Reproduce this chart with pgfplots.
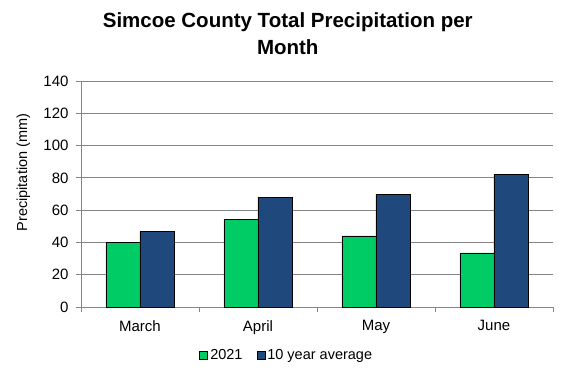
\documentclass[border=0pt]{standalone}
\usepackage{fontspec}
\setmainfont{Liberation Sans}
\usepackage{pgfplots}
\pgfplotsset{compat=1.18}
\definecolor{bargreen}{HTML}{00CC66}
\definecolor{barblue}{HTML}{1F497D}
\definecolor{axgray}{HTML}{868686}
\begin{document}
\begin{tikzpicture}[x=1pt,y=1pt]
\useasboundingbox (-81,-71) rectangle (487,307);
\begin{axis}[
  at={(0,0)}, anchor=south west,
  scale only axis, width=472pt, height=226pt,
  xmin=-0.5, xmax=3.5, ymin=0, ymax=140,
  axis x line*=bottom, axis y line*=left,
  axis line style={axgray, line width=0.8pt},
  ytick={0,20,...,140},
  ymajorgrids, grid style={axgray, line width=0.8pt},
  xtick={-0.5,0.5,1.5,2.5,3.5}, xticklabels={},
  extra x ticks={0,1,2,3},
  extra x tick labels={March,April,May,June},
  extra x tick style={major tick length=0pt, grid=none},
  tick align=outside, major tick length=5pt,
  tick style={axgray, line width=0.8pt},
  every tick label/.append style={font=\fontsize{15}{17}\selectfont, text=black},
  /pgf/number format/assume math mode=true,
  yticklabel style={xshift=-4pt},
  xticklabel style={yshift=-10pt},
  ylabel={Precipitation (mm)},
  ylabel style={at={(axis description cs:-0.122,0.595)}, anchor=center, font=\fontsize{14.5}{17}\selectfont},
  ybar, bar width=34pt,
  legend columns=2,
  legend style={at={(axis description cs:0.436,-0.212)}, anchor=center, draw=none,
    font=\fontsize{14.5}{17}\selectfont, /tikz/every even column/.append style={column sep=12pt}},
  legend image code/.code={\draw[#1, line width=0.8pt] (0pt,-4pt) rectangle (8pt,4pt);},
  title={Simcoe County Total Precipitation per\\Month},
  title style={at={(axis description cs:0.438,1.182)}, anchor=center, align=center,
    font=\bfseries\fontsize{20.5}{27}\selectfont},
]
\addplot[fill=bargreen, draw=black, line width=0.8pt, bar shift=-17pt] coordinates {(0,40) (1,54) (2,44) (3,33.5)};
\addplot[fill=barblue, draw=black, line width=0.8pt, bar shift=17pt] coordinates {(0,47) (1,68) (2,70) (3,82.3)};
\legend{2021,10 year average}
\end{axis}
\end{tikzpicture}
\end{document}
